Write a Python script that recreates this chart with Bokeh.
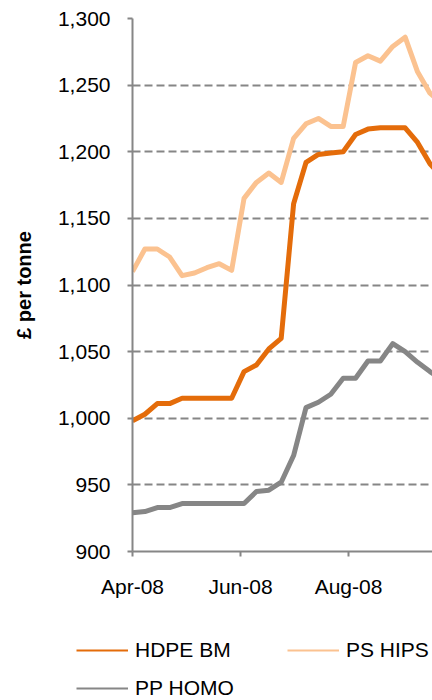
import numpy as np
from datetime import datetime, timedelta

from bokeh.plotting import figure
from bokeh.layouts import column
from bokeh.models import (Range1d, FixedTicker, DatetimeTickFormatter,
                          NumeralTickFormatter, Legend, LegendItem, ColumnDataSource)
from bokeh.embed import file_html
from bokeh.resources import INLINE

# Weekly price observations (GBP per tonne)
week_dates = [
    "2008-04-01", "2008-04-08", "2008-04-15", "2008-04-22", "2008-04-29",
    "2008-05-06", "2008-05-13", "2008-05-20", "2008-05-27", "2008-06-03",
    "2008-06-10", "2008-06-17", "2008-06-24", "2008-07-01", "2008-07-08",
    "2008-07-15", "2008-07-22", "2008-07-29", "2008-08-05", "2008-08-12",
    "2008-08-19", "2008-08-26", "2008-09-02", "2008-09-09", "2008-09-16",
    "2008-09-23",
]
hdpe_bm = [998, 1003, 1011, 1011, 1015, 1015, 1015, 1015, 1015, 1035,
           1040, 1052, 1060, 1161, 1192, 1198, 1199, 1200, 1213, 1217,
           1218, 1218, 1218, 1207, 1191, 1181]
ps_hips = [1110, 1127, 1127, 1121, 1107, 1109, 1113, 1116, 1111, 1165,
           1177, 1184, 1177, 1210, 1221, 1225, 1219, 1219, 1267, 1272,
           1268, 1279, 1286, 1260, 1244, 1236]
pp_homo = [929, 930, 933, 933, 936, 936, 936, 936, 936, 936,
           945, 946, 952, 972, 1008, 1012, 1018, 1030, 1030, 1043,
           1043, 1056, 1050, 1042, 1035, 1029]

series_names = ["HDPE BM", "PS HIPS", "PP HOMO"]
series_keys = ["hdpe_bm", "ps_hips", "pp_homo"]
series_colors = ["#E46C0A", "#FBC290", "#868686"]

tick_months = ["2008-04-01", "2008-06-01", "2008-08-01", "2008-10-01"]
y_ticks = [900, 950, 1000, 1050, 1100, 1150, 1200, 1250, 1300]

FONT = "Liberation Sans"
AXIS_GREY = "#868686"
TEXT_SIZE = "21px"

source = ColumnDataSource(data=dict(
    date=np.array(week_dates, dtype="datetime64[ms]"),
    hdpe_bm=hdpe_bm, ps_hips=ps_hips, pp_homo=pp_homo,
))

x_start = datetime(2008, 4, 1)
x_end = x_start + timedelta(days=169.45)

p = figure(width=432, height=600, x_axis_type="datetime",
           x_range=Range1d(x_start, x_end), y_range=Range1d(900, 1300),
           output_backend="svg", toolbar_location=None,
           min_border_left=132, min_border_right=0,
           min_border_top=18, min_border_bottom=48)
p.outline_line_color = None
p.background_fill_color = "white"
p.border_fill_color = "white"

# grid
p.xgrid.visible = False
p.ygrid.ticker = FixedTicker(ticks=y_ticks)
p.ygrid.grid_line_color = AXIS_GREY
p.ygrid.grid_line_width = 2
p.ygrid.grid_line_dash = "8 4"

# y axis
ya = p.yaxis[0]
ya.ticker = FixedTicker(ticks=y_ticks)
ya.formatter = NumeralTickFormatter(format="0,0")
ya.axis_label = "£ per tonne"
ya.axis_label_text_font = FONT
ya.axis_label_text_font_style = "bold"
ya.axis_label_text_font_size = "20px"
ya.axis_label_text_color = "black"
ya.axis_label_standoff = 20
ya.major_label_text_font = FONT
ya.major_label_text_font_size = TEXT_SIZE
ya.major_label_text_color = "black"
ya.major_label_standoff = 17
ya.axis_line_color = AXIS_GREY
ya.axis_line_width = 2
ya.major_tick_line_color = AXIS_GREY
ya.major_tick_line_width = 2
ya.major_tick_in = 0
ya.major_tick_out = 5
ya.minor_tick_line_color = None

# x axis
xa = p.xaxis[0]
xa.ticker = FixedTicker(ticks=[np.datetime64(t, "ms").astype(np.int64) for t in tick_months])
fmt = "%b-%y"
xa.formatter = DatetimeTickFormatter(days=fmt, months=fmt, years=fmt)
xa.major_label_text_font = FONT
xa.major_label_text_font_size = TEXT_SIZE
xa.major_label_text_color = "black"
xa.major_label_standoff = 18
xa.axis_line_color = AXIS_GREY
xa.axis_line_width = 2
xa.major_tick_line_color = AXIS_GREY
xa.major_tick_line_width = 2
xa.major_tick_in = 0
xa.major_tick_out = 5
xa.minor_tick_line_color = None

# price lines (drawn so the darker series sits on top)
for i in [1, 2, 0]:
    p.line("date", series_keys[i], source=source, line_color=series_colors[i],
           line_width=5, line_join="round")

# legend strip underneath the chart; its ranges keep the series out of view,
# so only the legend swatches show
leg = figure(width=432, height=100, x_range=Range1d(0, 1), y_range=Range1d(0, 1),
             output_backend="svg", toolbar_location=None,
             x_axis_location=None, y_axis_location=None,
             min_border_left=0, min_border_right=0,
             min_border_top=0, min_border_bottom=0)
leg.frame_align = False
leg.outline_line_color = None
leg.grid.visible = False
leg.background_fill_color = "white"
leg.border_fill_color = "white"

swatches = [leg.line("date", k, source=source, line_color=c, line_width=2)
            for k, c in zip(series_keys, series_colors)]
legend = Legend(
    items=[LegendItem(label=n, renderers=[r]) for n, r in zip(series_names, swatches)],
    location=(76, 0), orientation="horizontal", ncols=2,
    glyph_width=52, glyph_height=24, label_height=24, label_width=138,
    label_standoff=7, spacing=14, padding=0, margin=0,
    label_text_font=FONT, label_text_font_size=TEXT_SIZE, label_text_color="black",
    background_fill_alpha=0, border_line_color=None,
)
leg.add_layout(legend, "center")

layout = column(p, leg, spacing=0)
open("out.html", "w").write(file_html(layout, INLINE))
